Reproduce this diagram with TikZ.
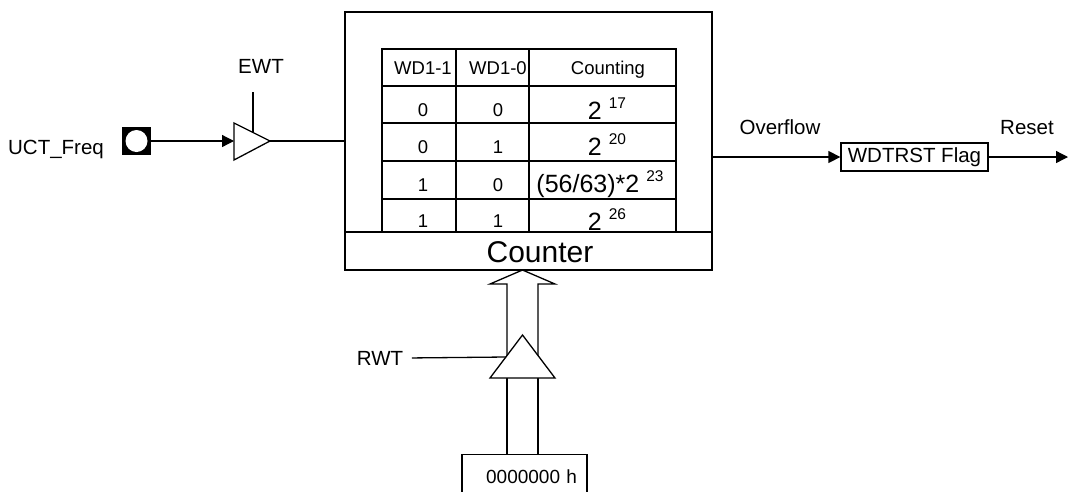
\documentclass[tikz,border=0pt]{standalone}
\usepackage{fontspec}
\setmainfont{Liberation Sans}
\usetikzlibrary{positioning, arrows.meta}

\newcommand{\sz}[1]{\fontsize{#1}{#1}\selectfont}
\newcommand{\pow}[2]{{\sz{25}#1 }\raisebox{11pt}{\sz{15.5}#2}}

\begin{document}
\begin{tikzpicture}[
    x=1pt, y=-1pt, line width=1.3pt,
    >={Triangle[length=12pt, width=12pt]},
    lbl/.style={inner sep=0pt, anchor=base, font=\sz{20.5}},
    cell/.style={inner sep=0pt, anchor=base, font=\sz{18.5}},
    frame/.style={draw, inner sep=0pt},
    buf/.style={draw, fill=white}
]
  \useasboundingbox (0,0) rectangle (1068,491);

  \node[frame, minimum width=367pt, minimum height=258pt] (wdt) at (528.5,141) {};
  \node[frame, minimum width=367pt, minimum height=38pt] (counter) at (528.5,251) {};
  \node[inner sep=0pt, anchor=base, font=\sz{30}] (ctr) at (540,262) {Counter};

  \draw (382,232) -- (382,49) -- (676,49) -- (676,232);
  \foreach \y in {86,123,161,199} \draw (382,\y) -- (676,\y);
  \foreach \x in {456,529} \draw (\x,49) -- (\x,232);

  \node[cell] (h1) at (423,74) {WD1-1};
  \node[cell] (h2) at (498,74) {WD1-0};
  \node[cell] (h3) at (608,74) {Counting};
  \foreach \a/\b/\y [count=\r] in {0/0/116, 0/1/153, 1/0/191, 1/1/227} {
    \node[cell] (a\r) at (423,\y) {\a};
    \node[cell] (b\r) at (498,\y) {\b};
  }
  \node[cell] (c1) at (607,119) {\pow{2}{17}};
  \node[cell] (c2) at (607,155) {\pow{2}{20}};
  \node[cell] (c3) at (600,192) {\pow{(56/63)*2}{23}};
  \node[cell] (c4) at (607,230) {\pow{2}{26}};

  \node[draw, fill=black, minimum size=27pt, inner sep=0pt,
        path picture={\fill[white] (path picture bounding box.center) circle (11pt);}]
        (pad) at (136.5,141) {};
  \node[lbl] (uct) at (56,154) {UCT\_Freq};
  \coordinate (ein) at (234,141);
  \coordinate (eout) at (270,141);
  \coordinate (ectl) at (253,92);
  \draw[buf] (234,123) -- (eout) -- (234,160) -- cycle;
  \draw[->] (pad.east) -- (ein);
  \draw (eout) -- (eout -| wdt.west);
  \draw (ectl) -- (253,132.5);
  \node[lbl] (ewt) at (261,73) {EWT};

  \node[frame, minimum width=147pt, minimum height=28pt, font=\sz{20.5}] (flag) at (914.5,157) {WDTRST Flag};
  \coordinate (rst) at (1068,157);
  \draw[->] (wdt.east |- flag.west) -- (flag.west);
  \draw[->] (flag.east) -- (rst);
  \node[lbl] (ovf) at (780,134) {Overflow};
  \node[lbl] (reset) at (1027,134) {Reset};

  \node[draw, anchor=north, text width=105pt, inner xsep=10pt, inner ysep=15pt,
        align=right, font=\sz{19}] (init) at (524.5,454) {0000000 h};
  \coordinate (tip) at (522.5,270);
  \draw (507,454) -- (507,378);
  \draw (538,454) -- (538,378);
  \draw (507,356) -- (507,284) -- (490,284) -- (tip) -- (555,284) -- (538,284) -- (538,356);
  \draw[buf] (490,378) -- (522.5,335) -- (555,378) -- cycle;
  \node[lbl] (rwt) at (380,365) {RWT};
  \draw ([xshift=8pt]rwt.east) -- (506,357);
\end{tikzpicture}
\end{document}
